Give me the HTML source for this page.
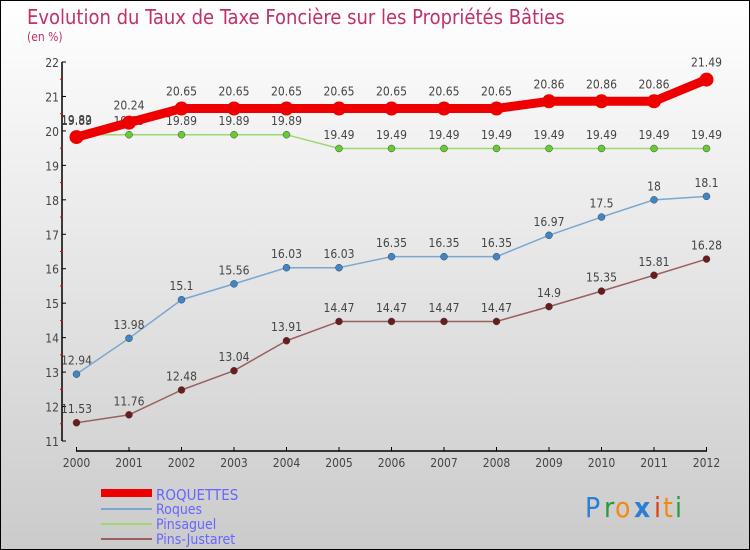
<!DOCTYPE html>
<html><head><meta charset="utf-8"><style>
body{margin:0}
#c{position:relative;width:748px;height:548px;border:1px solid #000;background:linear-gradient(#fff,#cbcbcb);font-family:"DejaVu Sans Condensed","Liberation Sans",sans-serif;overflow:hidden}
svg text{font-family:"DejaVu Sans Condensed","Liberation Sans",sans-serif}
</style></head><body>
<div id="c">
<svg id="s" width="748" height="548">
<text x="26" y="23" font-size="20" fill="#c0306a" font-weight="300">Evolution du Taux de Taxe Foncière sur les Propriétés Bâties</text>
<text x="26" y="40" font-size="12" fill="#c0306a">(en %)</text>
<g id="axes"></g><g id="series"></g>
<g>
<rect x="100" y="488" width="51" height="8" fill="#e00"/>
<text x="155" y="499" font-size="15" fill="#66f">ROQUETTES</text>
<rect x="100" y="507" width="51" height="2" fill="#7aa7d0"/>
<text x="155" y="513" font-size="14" fill="#66f">Roques</text>
<rect x="100" y="522" width="51" height="2" fill="#9dd870"/>
<text x="155" y="528" font-size="14" fill="#66f">Pinsaguel</text>
<rect x="100" y="537" width="51" height="2" fill="#9a6060"/>
<text x="155" y="543" font-size="14" fill="#66f">Pins-Justaret</text>
</g>
<g font-size="28">
<text x="584" y="516" fill="#2a7fd4">P</text><text x="603" y="516" fill="#2a9a3a">r</text><text x="614" y="516" fill="#f08a10">o</text><text x="633" y="516" fill="#2a7fd4" font-weight="bold">x</text><text x="653" y="516" fill="#e04010">i</text><text x="662" y="516" fill="#f08a10">t</text><text x="674" y="516" fill="#2a9a3a">i</text>
</g>
</svg>
</div>
<script>
const years=[2000,2001,2002,2003,2004,2005,2006,2007,2008,2009,2010,2011,2012];
const yTicks=[11,12,13,14,15,16,17,18,19,20,21,22];
const roquettes=[19.82,20.24,20.65,20.65,20.65,20.65,20.65,20.65,20.65,20.86,20.86,20.86,21.49];
const roques=[12.94,13.98,15.1,15.56,16.03,16.03,16.35,16.35,16.35,16.97,17.5,18,18.1];
const pinsaguel=[19.89,19.89,19.89,19.89,19.89,19.49,19.49,19.49,19.49,19.49,19.49,19.49,19.49];
const pinsJustaret=[11.53,11.76,12.48,13.04,13.91,14.47,14.47,14.47,14.47,14.9,15.35,15.81,16.28];
const NS='http://www.w3.org/2000/svg';
const X=i=>75.5+i*(705.5-75.5)/(years.length-1);
const Y=v=>440-(v-11)*(440-61)/11;
function mk(t,a,p){const e=document.createElementNS(NS,t);for(const k in a)e.setAttribute(k,a[k]);p.appendChild(e);return e;}
const ax=document.getElementById('axes');
let yl=mk('line',{x1:61,y1:61,x2:61,y2:440,stroke:'#000','stroke-width':1.5},ax);


yTicks.forEach(v=>{
 mk('line',{x1:61,x2:65,y1:Y(v),y2:Y(v),stroke:'#000'},ax);
 if(v<22)mk('line',{x1:59,x2:62,y1:Y(v+0.5),y2:Y(v+0.5),stroke:'#e00'},ax);
 const t=mk('text',{x:58,y:Y(v)+5,'font-size':12,fill:'#444','text-anchor':'end'},ax);t.textContent=v;
 
 
});
let xl=mk('line',{x1:75,y1:450,x2:706,y2:450,stroke:'#000','stroke-width':1.5},ax);


years.forEach((y,i)=>{
 mk('line',{x1:X(i),x2:X(i),y1:446,y2:450,stroke:'#000'},ax);
 const t=mk('text',{x:X(i),y:466,'font-size':12,fill:'#444','text-anchor':'middle'},ax);t.textContent=y;
 
 
});
const sg=document.getElementById('series');
function series(d,name,col,w,r,dot){
 const g=mk('g',{},sg);
 
 
 const p=mk('polyline',{points:d.map((v,i)=>X(i)+','+Y(v)).join(' '),fill:'none',stroke:col,'stroke-width':w,'stroke-linejoin':'round'},g);
 
 
 d.forEach((v,i)=>{
  const c=mk('circle',{cx:X(i),cy:Y(v),r:r,fill:dot,stroke:col==dot?'none':'#444','stroke-width':0.5},g);
  
  
  const t=mk('text',{x:X(i),y:Y(v)-(r+6),'font-size':12,fill:'#444','text-anchor':'middle'},g);t.textContent=v;
  
  
 });
}
series(pinsJustaret,'pins-justaret','#9a6060',1.5,3.5,'#6b1b1b');
series(roques,'roques','#7aa7d0',1.5,3.5,'#3f86c8');
series(pinsaguel,'pinsaguel','#9dd870',1.5,3.5,'#66cc33');
series(roquettes,'roquettes','#e00',9,7,'#e00');
</script>
</body></html>
